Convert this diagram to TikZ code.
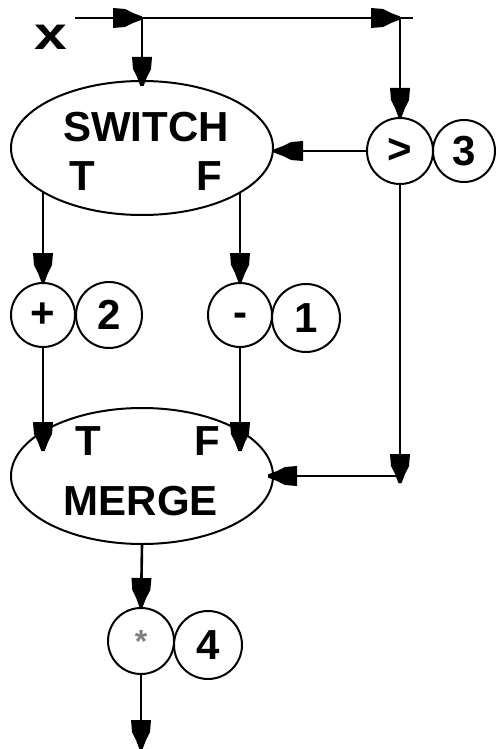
\documentclass[tikz,border=0pt]{standalone}
\usepackage{fontspec}
\setmainfont{Liberation Sans}
\usetikzlibrary{shapes.geometric}

% blunt, blocky filled arrow head
\pgfdeclarearrow{
  name=blockhead,
  setup code={
    \pgfarrowssettipend{0pt}
    \pgfarrowssetbackend{-29pt}
    \pgfarrowssetlineend{-20pt}
    \pgfarrowshullpoint{0pt}{0pt}
    \pgfarrowshullpoint{-29pt}{10pt}
    \pgfarrowshullpoint{-29pt}{-10pt}
  },
  drawing code={
    \pgfpathmoveto{\pgfqpoint{0pt}{1.6pt}}
    \pgfpathlineto{\pgfqpoint{-9pt}{5pt}}
    \pgfpathlineto{\pgfqpoint{-17pt}{9pt}}
    \pgfpathlineto{\pgfqpoint{-29pt}{10pt}}
    \pgfpathlineto{\pgfqpoint{-29pt}{-10pt}}
    \pgfpathlineto{\pgfqpoint{-17pt}{-9pt}}
    \pgfpathlineto{\pgfqpoint{-9pt}{-5pt}}
    \pgfpathlineto{\pgfqpoint{0pt}{-1.6pt}}
    \pgfpathclose
    \pgfusepathqfill
  }
}

\begin{document}
\begin{tikzpicture}[x=1pt,y=-1pt,
  wire/.style={line width=2.6pt},
  arr/.style={wire,-blockhead},
  oval/.style={draw,ellipse,line width=2pt,minimum width=262pt,minimum height=134pt,inner sep=0pt},
  ball/.style={draw,circle,line width=2pt,inner sep=0pt,font=\fontsize{42}{48}\selectfont\bfseries},
  big/.style={font=\fontsize{42}{48}\selectfont\bfseries,inner sep=0pt},
  ]
\useasboundingbox (0,0) rectangle (495,749);

% switch and merge actors
\node[oval] (sw) at (142,148) {};
\node[big,anchor=base] (swname) at (146,142) {SWITCH};
\node[big,anchor=base] (swT) at (82,190) {T};
\node[big,anchor=base] (swF) at (209,190) {F};

\node[oval,minimum height=136pt] (mg) at (142,476) {};
\node[big,anchor=base] (mgname) at (141,515) {MERGE};
\node[big,anchor=base] (mgT) at (88,455) {T};
\node[big,anchor=base] (mgF) at (207,455) {F};

% operator / constant pairs
\node[ball,minimum size=66pt] (gt) at (400,151) {>};
\node[ball,minimum size=62pt] (three) at (464,151) {3};
\node[ball,minimum size=64pt] (plus) at (43,315) {+};
\node[ball,minimum size=66pt] (two) at (109,315) {2};
\node[ball,minimum size=64pt] (minus) at (240,315) {\raisebox{-11pt}[0pt][0pt]{-}};
\node[ball,minimum size=68pt] (one) at (306,318) {1};
\node[ball,minimum size=66pt,text=gray,font=\fontsize{32}{36}\selectfont\bfseries] (star) at (141,641) {*};
\node[ball,minimum size=68pt] (four) at (208,645) {4};

% input
\node[big] (xin) at (51,37) {\scalebox{1.4}[1.1]{x}};
\coordinate (xs) at (75,18);
\coordinate (b1) at (142,18);
\coordinate (b2) at (400,18);
\coordinate (xe) at (413,18);
\coordinate (drop) at (400,483);
\coordinate (out) at (141,749);

% connections
\draw[arr] (xs) -- (b1);
\draw[arr] (b1) -- (b2);
\draw[wire] (b2) -- (xe);
\draw[arr,shorten >=-6pt] (b1) -- (sw.north);
\draw[arr] (b2) -- (gt.north);
\draw[arr] (gt.west) -- (sw.east |- gt.west);
\draw[arr] (plus.north |- sw.204) -- (plus.north);
\draw[arr] (minus.north |- sw.336) -- (minus.north);
\draw[arr,shorten >=-16pt] (plus.south) -- (plus.south |- mg.159);
\draw[arr,shorten >=-16pt] (minus.south) -- (minus.south |- mg.21);
\draw[arr] (gt.south) -- (drop);
\draw[arr,shorten >=-6pt] (drop |- mg.east) -- (mg.east);
\draw[arr] (mg.south) -- (star.north);
\draw[arr] (star.south) -- (out);
\end{tikzpicture}
\end{document}
